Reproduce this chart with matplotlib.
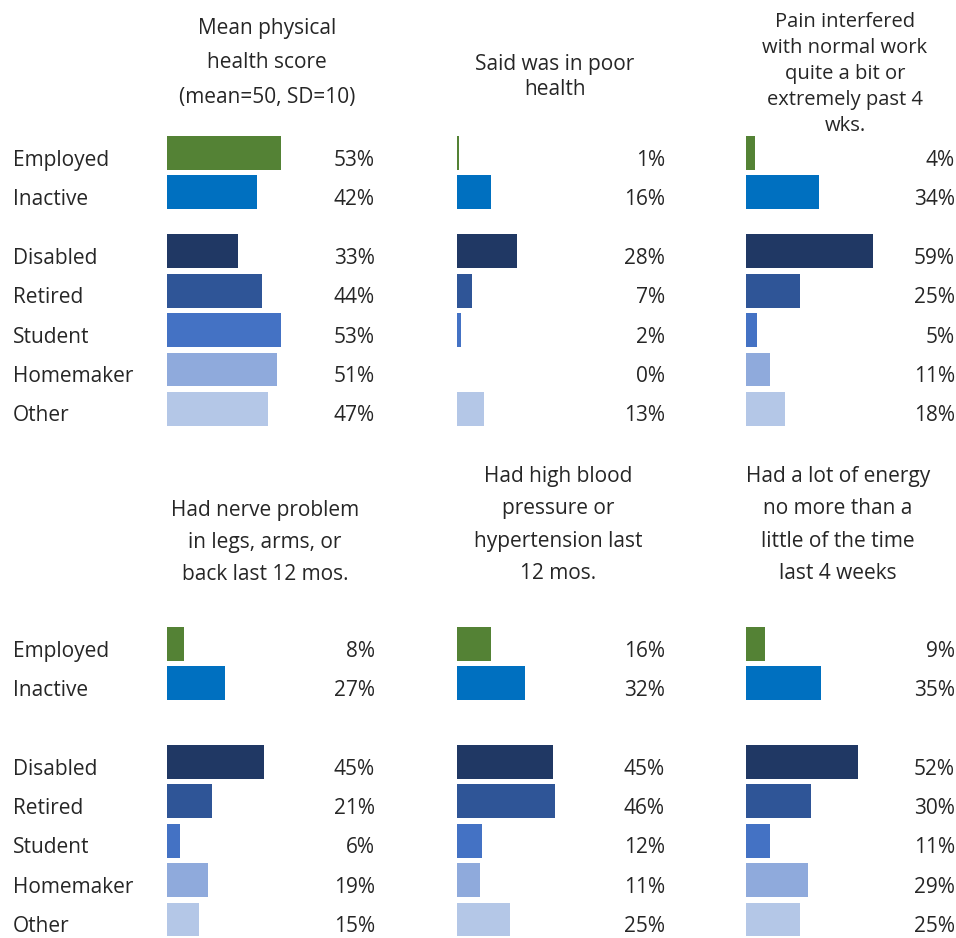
import matplotlib.pyplot as plt
from matplotlib.transforms import blended_transform_factory

plt.rcParams['font.family'] = ['Open Sans', 'DejaVu Sans']

categories = ["Employed", "Inactive", "Disabled", "Retired", "Student", "Homemaker", "Other"]
colors = ["#548235", "#0070C0", "#203864", "#2F5597", "#4472C4", "#8FAADC", "#B4C7E7"]

titles_top = [
    "Mean physical\nhealth score\n(mean=50, SD=10)",
    "Said was in poor\nhealth",
    "Pain interfered\nwith normal work\nquite a bit or\nextremely past 4\nwks.",
]
titles_bottom = [
    "Had nerve problem\nin legs, arms, or\nback last 12 mos.",
    "Had high blood\npressure or\nhypertension last\n12 mos.",
    "Had a lot of energy\nno more than a\nlittle of the time\nlast 4 weeks",
]

physical_score = [53, 42, 33, 44, 53, 51, 47]
poor_health = [1, 16, 28, 7, 2, 0, 13]
pain_interfered = [4, 34, 59, 25, 5, 11, 18]
nerve_problem = [8, 27, 45, 21, 6, 19, 15]
high_blood_pressure = [16, 32, 45, 46, 12, 11, 25]
low_energy = [9, 35, 52, 30, 11, 29, 25]

# row positions (in row units) for each block
rows_top = [0, 1, 2.5, 3.5, 4.5, 5.5, 6.5]
rows_bottom = [0, 1, 3, 4, 5, 6, 7]

W, H = 956, 938
fig = plt.figure(figsize=(W / 100, H / 100), dpi=100)
txt = "#262626"
fs = 15

row_px = 39.35
px_per_pct = 2.15
bar_lefts = [167, 456.5, 746]
label_rights = [375, 665, 955]
base_off = 12.5 / row_px  # text baseline sits a little below the bar centre


def make_axes(left_px, right_px, first_center_px, ymin, ymax):
    top_px = first_center_px + ymin * row_px
    bot_px = first_center_px + ymax * row_px
    rect = [left_px / W, 1 - bot_px / H, (right_px - left_px) / W, (bot_px - top_px) / H]
    ax = fig.add_axes(rect)
    ax.set_xlim(0, (right_px - left_px) / px_per_pct)
    ax.set_ylim(ymax, ymin)
    ax.axis("off")
    return ax


def draw_panel(ax, rows, values):
    ax.barh(rows, values, height=0.86, color=colors, left=0)
    xmax = ax.get_xlim()[1]
    for r, v in zip(rows, values):
        ax.text(xmax, r + base_off, f"{v}%", ha="right", va="baseline",
                fontsize=fs, color=txt, clip_on=False)


blocks = [
    (rows_top, [physical_score, poor_health, pain_interfered], 153, (-0.5, 7.0)),
    (rows_bottom, [nerve_problem, high_blood_pressure, low_energy], 644, (-0.5, 7.45)),
]

for rows, series, first_center, (ymin, ymax) in blocks:
    for i, values in enumerate(series):
        ax = make_axes(bar_lefts[i], label_rights[i], first_center, ymin, ymax)
        draw_panel(ax, rows, values)
        if i == 0:
            tr = blended_transform_factory(fig.transFigure, ax.transData)
            for r, c in zip(rows, categories):
                ax.text(13 / W, r + base_off, c, transform=tr, ha="left", va="baseline",
                        fontsize=fs, color=txt, clip_on=False)

# panel titles: text, centre x, centre y (pixels), size, line spacing
title_specs = [
    (titles_top[0], 267, 63, fs, 1.84),
    (titles_top[1], 555, 77, fs, 1.23),
    (titles_top[2], 845, 73.5, fs - 0.5, 1.4),
    (titles_bottom[0], 265, 542.5, fs, 1.7),
    (titles_bottom[1], 558, 525, fs, 1.7),
    (titles_bottom[2], 838, 525, fs, 1.7),
]
for text, x, y, size, ls in title_specs:
    fig.text(x / W, 1 - y / H, text, ha="center", va="center", fontsize=size,
             color=txt, linespacing=ls, multialignment="center")

fig.savefig("out.png", dpi=100)
